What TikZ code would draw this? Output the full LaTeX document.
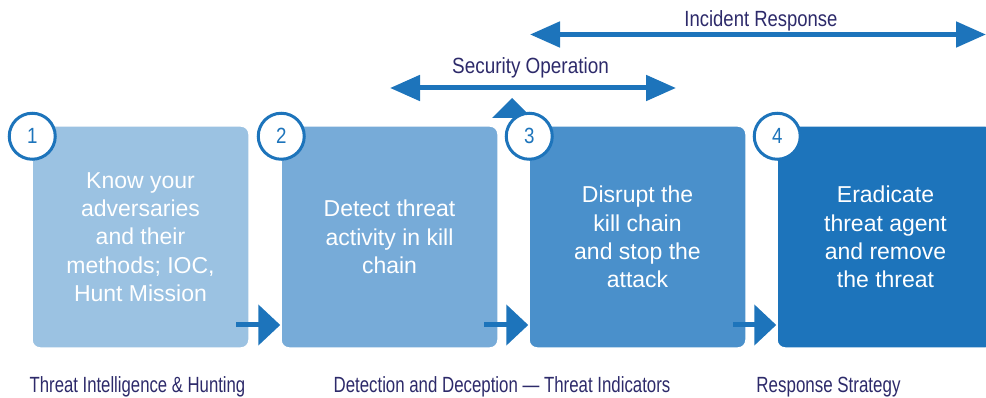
\documentclass[tikz,border=0pt]{standalone}
\usepackage{fontspec}
\setmainfont{Liberation Sans}
\usepackage{graphicx}
\usetikzlibrary{arrows.meta}

\definecolor{stepA}{HTML}{9BC2E2}
\definecolor{stepB}{HTML}{77ABD8}
\definecolor{stepC}{HTML}{4A90CB}
\definecolor{stepD}{HTML}{1D74BB}
\definecolor{flowblue}{HTML}{1D74BB}
\definecolor{navy}{HTML}{2D2A6A}

% condensed lettering for the captions and step numbers
\newcommand{\narrowtext}[2][0.81]{\scalebox{#1}[1]{#2}}

\tikzset{
  stepbox/.style={rectangle, rounded corners=8pt, minimum width=217pt,
    minimum height=222pt, inner sep=0pt, draw=white, line width=1.5pt,
    text=white, align=center, font=\fontsize{23}{28.3}\selectfont},
  numcirc/.style={circle, minimum size=46pt, inner sep=0pt, fill=white,
    draw=flowblue, line width=3pt, text=flowblue,
    font=\fontsize{22}{22}\selectfont},
  flow/.style={draw=flowblue, line width=5pt,
    -{Triangle[length=22pt,width=40pt]}},
  span/.style={draw=flowblue, line width=5pt,
    {Triangle[length=30pt,width=25pt]}-{Triangle[length=30pt,width=25pt]}},
  caption/.style={text=navy, inner sep=0pt,
    font=\fontsize{22}{22}\selectfont},
}

\begin{document}
\begin{tikzpicture}[x=1pt,y=-1pt]
\useasboundingbox (0,0) rectangle (986,398);
\clip (0,0) rectangle (986,398);

% arrowhead rising from behind the second step
\fill[flowblue] (492,118) -- (512,98) -- (532,118) -- cycle;

% the four steps
\node[stepbox, fill=stepA] (b1) at (140.5,237)
  {Know your\\adversaries\\and their\\methods; IOC,\\Hunt Mission};
\node[stepbox, fill=stepB] (b2) at (389.5,237)
  {Detect threat\\activity in kill\\chain};
\node[stepbox, fill=stepC] (b3) at (637.5,237)
  {Disrupt the\\kill chain\\and stop the\\attack};
\node[stepbox, fill=stepD] (b4) at (885.5,237)
  {Eradicate\\threat agent\\and remove\\the threat};

% step numbers
\node[numcirc] (n1) at ([shift={(1,11)}]b1.north west) {\narrowtext[0.85]{1}};
\node[numcirc] (n2) at ([shift={(1,11)}]b2.north west) {\narrowtext[0.85]{2}};
\node[numcirc] (n3) at ([shift={(1,11)}]b3.north west) {\narrowtext[0.85]{3}};
\node[numcirc] (n4) at ([shift={(1,11)}]b4.north west) {\narrowtext[0.85]{4}};

% links between the steps
\coordinate (s1) at (236,325);
\coordinate (s2) at (484,325);
\coordinate (s3) at (733,325);
\draw[flow] (s1) -- (b2.west |- s1);
\draw[flow] (s2) -- (b3.west |- s2);
\draw[flow] (s3) -- (b4.west |- s3);

% scope spans
\coordinate (soL) at (390,88);
\coordinate (soR) at (676,88);
\draw[span] (soL) -- (soR);
\node[caption] (so) at (530.5,68) {\narrowtext[0.86]{Security Operation}};

\coordinate (irL) at (530,34.5);
\coordinate (irR) at (986,34.5);
\draw[span] (irL) -- (irR);
\node[caption] (ir) at (761,21) {\narrowtext[0.84]{Incident Response}};

% phase captions
\node[caption] (p1) at (137.5,387) {\narrowtext[0.76]{Threat Intelligence \& Hunting}};
\node[caption] (p2) at (502,387) {\narrowtext[0.765]{Detection and Deception — Threat Indicators}};
\node[caption] (p3) at (828.5,387) {\narrowtext[0.77]{Response Strategy}};
\end{tikzpicture}
\end{document}
